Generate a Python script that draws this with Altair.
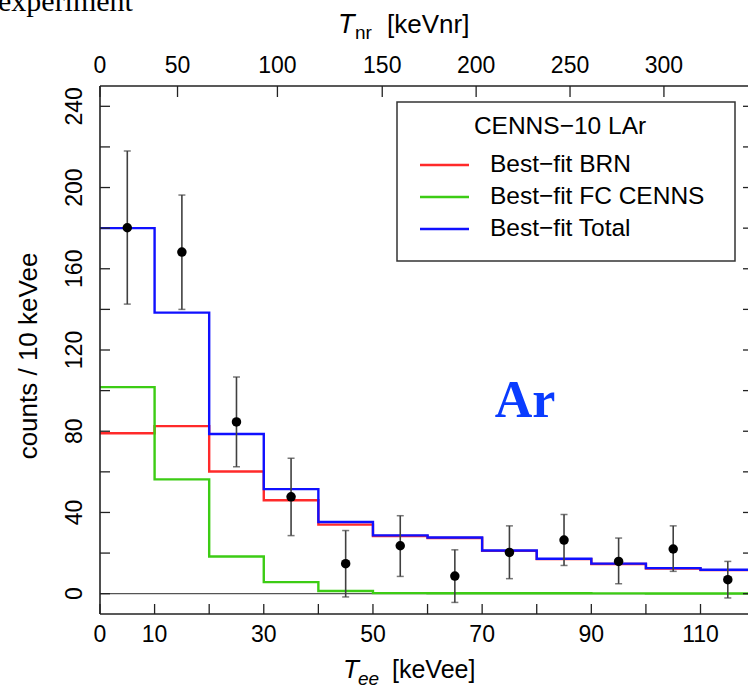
import altair as alt
import pandas as pd

# ---------------- data ----------------
bin_lo = [0, 10, 20, 30, 40, 50, 60, 70, 80, 90, 100, 110]
bin_hi_last = 120
brn = [79.0, 82.5, 60.2, 46.0, 34.0, 28.4, 27.4, 21.1, 17.0, 14.6, 12.4, 11.6]
cenns = [101.7, 56.3, 18.3, 5.7, 1.3, 0.3, 0.25, 0.2, 0.2, 0.15, 0.1, 0.1]
total = [180.0, 138.4, 78.6, 51.5, 35.3, 28.7, 27.7, 21.3, 17.2, 14.8, 12.6, 11.8]

pt_x = [5, 15, 25, 35, 45, 55, 65, 75, 85, 95, 105, 115]
pt_y = [180.2, 168.2, 84.6, 47.7, 14.8, 23.6, 8.7, 20.3, 26.4, 15.9, 22.0, 6.9]
pt_lo = [142.6, 140.0, 62.5, 28.6, -1.6, 8.5, -4.3, 7.4, 13.9, 4.9, 11.0, -2.1]
pt_hi = [218.0, 196.3, 106.7, 66.7, 31.1, 38.4, 21.6, 33.4, 39.0, 27.4, 33.4, 15.9]

x_ticks = [0, 10, 20, 30, 40, 50, 60, 70, 80, 90, 100, 110]
x_labels = [0, 10, 30, 50, 70, 90, 110]
y_ticks = [0, 20, 40, 60, 80, 100, 120, 140, 160, 180, 200, 220, 240]
y_labels = [0, 40, 80, 120, 160, 200, 240]
top_labels = [0, 50, 100, 150, 200, 250, 300]          # T_nr [keVnr]
top_pos_ee = [0, 14.2, 32.5, 51.7, 68.9, 86.1, 103.3]   # equivalent T_ee

series_names = ["Best\u2212fit BRN", "Best\u2212fit FC CENNS", "Best\u2212fit Total"]
series_colors = ["#ff2a2a", "#3ccc14", "#1010ff"]

# ---------------- layout ----------------
W, H = 648, 528
XD = [0, 118.7]
YD = [-10, 250]
FONT = "Liberation Sans"
xs = alt.Scale(domain=XD, nice=False, zero=False)
ys = alt.Scale(domain=YD, nice=False, zero=False)


def step_df(vals):
    return pd.DataFrame({"x": bin_lo + [bin_hi_last], "y": vals + [vals[-1]]})


def step_layer(vals, color):
    return alt.Chart(step_df(vals)).mark_line(
        interpolate="step-after", color=color, strokeWidth=2.4, clip=True
    ).encode(
        x=alt.X("x:Q", scale=xs, axis=None),
        y=alt.Y("y:Q", scale=ys, axis=None),
    )


layers = []

# zero line
layers.append(
    alt.Chart(pd.DataFrame({"y": [0]})).mark_rule(color="#555555", strokeWidth=1.2).encode(
        y=alt.Y("y:Q", scale=ys, axis=None), x=alt.value(0), x2=alt.value(W)
    )
)

layers.append(step_layer(brn, series_colors[0]))
layers.append(step_layer(cenns, series_colors[1]))
layers.append(step_layer(total, series_colors[2]))

pts = pd.DataFrame({"x": pt_x, "y": pt_y, "lo": pt_lo, "hi": pt_hi})
layers.append(
    alt.Chart(pts).mark_rule(color="#404040", strokeWidth=1.6).encode(
        x=alt.X("x:Q", scale=xs, axis=None),
        y=alt.Y("lo:Q", scale=ys, axis=None),
        y2="hi:Q",
    )
)
for col in ["lo", "hi"]:
    layers.append(
        alt.Chart(pts).mark_tick(color="#404040", orient="horizontal", size=7, thickness=1.5).encode(
            x=alt.X("x:Q", scale=xs, axis=None),
            y=alt.Y(f"{col}:Q", scale=ys, axis=None),
        )
    )
layers.append(
    alt.Chart(pts).mark_point(filled=True, color="black", size=90, opacity=1).encode(
        x=alt.X("x:Q", scale=xs, axis=None),
        y=alt.Y("y:Q", scale=ys, axis=None),
    )
)

# frame (left, bottom, top)
frame_col = "#222222"
one = pd.DataFrame({"a": [0]})
layers.append(alt.Chart(one).mark_rule(color=frame_col, strokeWidth=1.6).encode(
    x=alt.value(0), y=alt.value(0), y2=alt.value(H)))
layers.append(alt.Chart(one).mark_rule(color=frame_col, strokeWidth=1.6).encode(
    x=alt.value(0), x2=alt.value(W), y=alt.value(H)))
layers.append(alt.Chart(one).mark_rule(color=frame_col, strokeWidth=1.6).encode(
    x=alt.value(0), x2=alt.value(W), y=alt.value(0)))

# ticks (inward)
xt = pd.DataFrame({"x": x_ticks})
layers.append(alt.Chart(xt).mark_rule(color=frame_col, strokeWidth=1.3).encode(
    x=alt.X("x:Q", scale=xs, axis=None), y=alt.value(H - 10), y2=alt.value(H)))
tt = pd.DataFrame({"x": top_pos_ee, "lab": [str(v) for v in top_labels]})
layers.append(alt.Chart(tt).mark_rule(color=frame_col, strokeWidth=1.3).encode(
    x=alt.X("x:Q", scale=xs, axis=None), y=alt.value(0), y2=alt.value(11)))
yt = pd.DataFrame({"y": y_ticks})
layers.append(alt.Chart(yt).mark_rule(color=frame_col, strokeWidth=1.3).encode(
    y=alt.Y("y:Q", scale=ys, axis=None), x=alt.value(0), x2=alt.value(10)))
layers.append(alt.Chart(yt).mark_rule(color=frame_col, strokeWidth=1.3).encode(
    y=alt.Y("y:Q", scale=ys, axis=None), x=alt.value(W - 5), x2=alt.value(W)))

# tick labels
xl = pd.DataFrame({"x": x_labels, "lab": [str(v) for v in x_labels]})
layers.append(alt.Chart(xl).mark_text(font=FONT, fontSize=23, baseline="middle", align="center",
                                       color="black").encode(
    x=alt.X("x:Q", scale=xs, axis=None), y=alt.value(H + 21), text="lab:N"))
layers.append(alt.Chart(tt).mark_text(font=FONT, fontSize=23, baseline="middle", align="center",
                                       color="black").encode(
    x=alt.X("x:Q", scale=xs, axis=None), y=alt.value(-20), text="lab:N"))
yl = pd.DataFrame({"y": y_labels, "lab": [str(v) for v in y_labels]})
layers.append(alt.Chart(yl).mark_text(font=FONT, fontSize=23, baseline="middle", align="center",
                                       angle=270, color="black").encode(
    y=alt.Y("y:Q", scale=ys, axis=None), x=alt.value(-25), text="lab:N"))


def label(txt, x, y, size, **kw):
    return alt.Chart(pd.DataFrame({"t": [txt]})).mark_text(fontSize=size, **kw).encode(
        text="t:N", x=alt.value(x), y=alt.value(y))


# axis titles
layers.append(label("T", 238, -53, 27, font=FONT, fontStyle="italic", align="left", baseline="alphabetic"))
layers.append(label("nr", 255, -47, 19, font=FONT, align="left", baseline="alphabetic"))
layers.append(label("[keVnr]", 287, -53, 26, font=FONT, align="left", baseline="alphabetic"))

layers.append(label("T", 243, 592, 26, font=FONT, fontStyle="italic", align="left", baseline="alphabetic"))
layers.append(label("ee", 258, 599, 19, font=FONT, fontStyle="italic", align="left", baseline="alphabetic"))
layers.append(label("[keVee]", 292, 592, 25, font=FONT, align="left", baseline="alphabetic"))

layers.append(label("counts / 10 keVee", -63, 270, 26, font=FONT, angle=270, align="center",
                    baseline="alphabetic"))

# annotations
layers.append(label("Ar", 425, 331, 52, font="Liberation Serif", fontWeight="bold", color="#0a3cff",
                    align="center", baseline="alphabetic"))
layers.append(label("experiment", -102, -75, 30, font="Liberation Serif", align="left",
                    baseline="alphabetic"))

# legend
layers.append(alt.Chart(one).mark_rect(fill="white", stroke="#333333", strokeWidth=1.5).encode(
    x=alt.value(297), x2=alt.value(635), y=alt.value(16), y2=alt.value(175)))
layers.append(label("CENNS\u221210 LAr", 460, 41, 24.5, font=FONT, align="center", baseline="middle"))
leg = pd.DataFrame({"name": series_names, "color": series_colors, "yy": [79, 111, 143]})
for i in range(len(series_names)):
    row = leg.iloc[[i]]
    layers.append(alt.Chart(row).mark_rule(color=series_colors[i], strokeWidth=2.4).encode(
        x=alt.value(320), x2=alt.value(369), y=alt.value(int(row["yy"].iloc[0]))))
    layers.append(alt.Chart(row).mark_text(font=FONT, fontSize=24.5, align="left", baseline="middle",
                                           color="black").encode(
        text="name:N", x=alt.value(390), y=alt.value(int(row["yy"].iloc[0]))))

chart = alt.layer(*layers).properties(
    width=W, height=H,
    autosize=alt.AutoSizeParams(type="none"),
    padding={"left": 100, "top": 86, "right": 0, "bottom": 72},
    background="white",
).configure_view(stroke=None)

chart.save("out.html", embed_options={"renderer": "svg", "actions": False})
